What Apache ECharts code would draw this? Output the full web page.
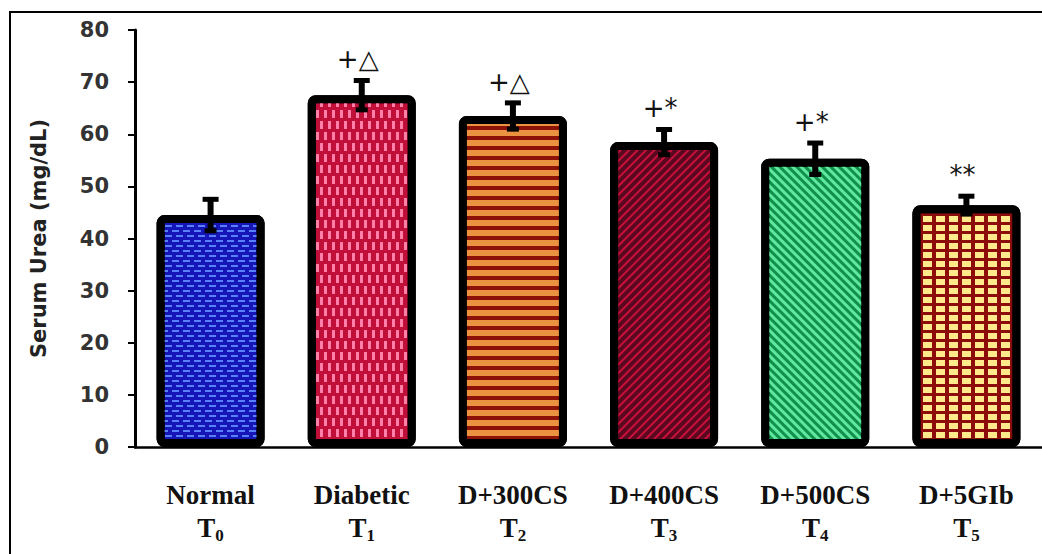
<!DOCTYPE html>
<html><head><meta charset="utf-8">
<script src="https://cdn.jsdelivr.net/npm/echarts@6/dist/echarts.min.js"></script>
<style>html,body{margin:0;padding:0;background:#fff}#c{width:1042px;height:554px}</style>
</head><body><div id="c"></div>
<script>
// ---- data ----
const categories = ['Normal', 'Diabetic', 'D+300CS', 'D+400CS', 'D+500CS', 'D+5GIb'];
const groupCodes = ['0', '1', '2', '3', '4', '5'];
const values = [44.5, 67.5, 63.5, 58.5, 55.3, 46.4];
const errors = [3.4, 3.2, 2.9, 2.8, 3.4, 2.1];
const annotations = ['', '+\u25B3', '+\u25B3', '+*', '+*', '**'];
const yMin = 0, yMax = 80, yStep = 10;
const yAxisTitle = 'Serum Urea (mg/dL)';

// ---- styles ----
const barStyles = [
  { color: '#1616b8', decal: { symbol: 'rect', symbolSize: 1, color: 'rgba(95,140,255,0.9)', dashArrayX: [[7, 4], [3, 4, 4, 0]], dashArrayY: [2, 3] } },
  { color: '#c0103a', decal: { symbol: 'rect', symbolSize: 1, color: '#ff7fa8', dashArrayX: [[3, 5], [0, 4, 3, 1]], dashArrayY: [8, 3] } },
  { color: '#8c1208', decal: { symbol: 'rect', symbolSize: 1, color: '#eb9240', dashArrayX: [1, 0], dashArrayY: [6, 4] } },
  { color: '#c8103a', decal: { symbol: 'rect', symbolSize: 1, color: '#5a0820', dashArrayX: [1, 0], dashArrayY: [4, 1.3], rotation: -Math.PI / 4 } },
  { color: '#10904a', decal: { symbol: 'rect', symbolSize: 1, color: '#60e8a0', dashArrayX: [1, 0], dashArrayY: [3, 3], rotation: Math.PI / 4 } },
  { color: '#8c0c0c', decal: { symbol: 'rect', symbolSize: 1, color: '#ffe98a', dashArrayX: [9, 3.5], dashArrayY: [6, 3] } }
];

const barData = values.map((v, i) => ({
  value: v,
  itemStyle: { color: barStyles[i].color, decal: barStyles[i].decal }
}));
const errData = values.map((v, i) => [i, v, errors[i]]);
const annData = values.map((v, i) => [i, v + errors[i], annotations[i]]);

const chart = echarts.init(document.getElementById('c'), null, { renderer: 'svg' });
chart.setOption({
  animation: false,
  backgroundColor: '#fff',
  aria: { enabled: true, decal: { show: true } },
  graphic: [{
    type: 'rect', z: -10, silent: true,
    shape: { x: 10, y: 12, width: 1200, height: 800 },
    style: { fill: 'none', stroke: '#000', lineWidth: 2 }
  }],
  grid: { left: 135, right: -3, top: 30, bottom: 107, containLabel: false },
  xAxis: {
    type: 'category',
    data: categories,
    axisLine: { lineStyle: { color: '#000', width: 2.5 } },
    axisTick: { show: false },
    axisLabel: {
      interval: 0,
      margin: 31,
      formatter: (v, i) => '{n|' + v + '}\n{t|T}{s|' + groupCodes[i] + '}',
      rich: {
        n: { fontFamily: 'Liberation Serif', fontWeight: 'bold', fontSize: 27, lineHeight: 33, color: '#111' },
        t: { fontFamily: 'Liberation Serif', fontWeight: 'bold', fontSize: 27, lineHeight: 33, color: '#111' },
        s: { fontFamily: 'Liberation Serif', fontWeight: 'bold', fontSize: 17, lineHeight: 20, verticalAlign: 'bottom', color: '#111' }
      }
    }
  },
  yAxis: {
    type: 'value',
    min: yMin, max: yMax, interval: yStep,
    name: yAxisTitle,
    nameLocation: 'middle',
    nameGap: 86,
    nameTextStyle: { fontFamily: 'DejaVu Sans', fontWeight: 'bold', fontSize: 21, color: '#222' },
    axisLine: { show: true, lineStyle: { color: '#000', width: 3 } },
    axisTick: { show: true, length: 7, lineStyle: { color: '#000', width: 2 } },
    axisLabel: { margin: 26, fontFamily: 'DejaVu Sans', fontWeight: 'bold', fontSize: 21, color: '#333' },
    splitLine: { show: false }
  },
  series: [
    {
      type: 'bar',
      data: barData,
      barWidth: 108,
      itemStyle: { borderColor: '#000', borderWidth: 8, borderRadius: 4 }
    },
    {
      type: 'custom',
      data: errData,
      z: 5,
      renderItem: (params, api) => {
        const x = api.value(0), v = api.value(1), e = api.value(2);
        const top = api.coord([x, v + e]);
        const bot = api.coord([x, v - e]);
        const cx = top[0];
        return {
          type: 'group',
          children: [
            { type: 'line', shape: { x1: cx, y1: top[1], x2: cx, y2: bot[1] }, style: { stroke: '#000', lineWidth: 6 } },
            { type: 'line', shape: { x1: cx - 8, y1: top[1] + 2, x2: cx + 8, y2: top[1] + 2 }, style: { stroke: '#000', lineWidth: 5 } },
            { type: 'line', shape: { x1: cx - 6, y1: bot[1] - 2, x2: cx + 6, y2: bot[1] - 2 }, style: { stroke: '#000', lineWidth: 5 } }
          ]
        };
      }
    },
    {
      type: 'custom',
      data: annData,
      z: 6,
      renderItem: (params, api) => {
        const i = params.dataIndex;
        const p = api.coord([api.value(0), api.value(1)]);
        return {
          type: 'text',
          style: {
            text: annotations[i],
            x: p[0] - 4, y: p[1] - 19,
            align: 'center', verticalAlign: 'middle',
            fontFamily: 'DejaVu Sans', fontSize: 26, fill: '#111'
          }
        };
      }
    }
  ]
});
</script>
</body></html>
